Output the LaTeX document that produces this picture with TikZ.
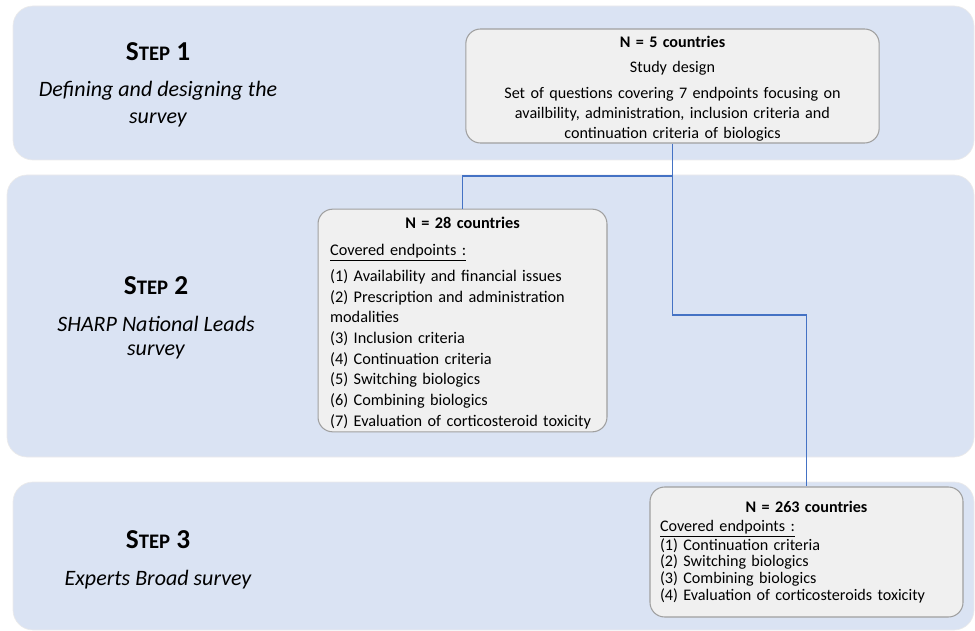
\documentclass[tikz,border=0pt]{standalone}
\usepackage{fontspec}
\setmainfont{Carlito}
\usepackage{tikz}
\usetikzlibrary{positioning}
\definecolor{bandblue}{RGB}{218,227,243}
\definecolor{boxgray}{RGB}{240,240,240}
\definecolor{boxline}{RGB}{160,160,160}
\definecolor{linkblue}{RGB}{68,114,196}
\newcommand{\stepname}[1]{{\bfseries\fontsize{20.5}{24}\selectfont S\fontsize{15.5}{18}\selectfont TEP\fontsize{20.5}{24}\selectfont\ #1}}
\tikzset{
	band/.style = {fill=bandblue, draw=black!8, line width=0.5pt, rounded corners=15pt},
	infobox/.style args = {#1/#2}{rectangle, rounded corners=11pt, fill=boxgray, draw=boxline,
		line width=0.8pt, text width=#1, minimum height=#2, inner ysep=0pt},
	stephead/.style = {anchor=base, inner sep=0pt},
	stepsub/.style = {anchor=base, align=center, inner sep=0pt, font=\itshape\fontsize{16.5}{18}\selectfont},
	link/.style = {draw=linkblue, line width=1.2pt},
}

\begin{document}
\begin{tikzpicture}[x=0.75pt, y=-0.75pt]
	\clip (0,0) rectangle (975,631);
	\foreach \top/\bot/\lft in {6/160/13, 175/457/7, 482/630/13} {
		\draw[band] (\lft,\top) rectangle (974,\bot);
	}
	% step labels
	\node[stephead] (step1) at (158,61) {\stepname{1}};
	\node[stepsub] (step1sub) at (158,124) {Defining and designing the\\[2.25pt]survey};
	\node[stephead] (step2) at (156,294) {\stepname{2}};
	\node[stepsub] (step2sub) at (156,355) {SHARP National Leads\\survey};
	\node[stephead] (step3) at (158,548) {\stepname{3}};
	\node[stepsub] (step3sub) at (158,585) {Experts Broad survey};
	% boxes
	\node[infobox=290pt/85.5pt, align=center, inner xsep=10pt, font=\fontsize{12.1}{15}\selectfont]
		(design) at (672.5,86) {\rule{0pt}{12.5pt}\textbf{N = 5 countries}\\[3.75pt]
		Study design\\[4.5pt]
		Set of questions covering 7 endpoints focusing on\\
		availbility, administration, inclusion criteria and\\
		continuation criteria of biologics};
	\node[infobox=198.5pt/167pt, align=left, inner xsep=9.1pt, font=\fontsize{12.2}{15.5}\selectfont]
		(leads) at (462.5,320.5) {\makebox[\linewidth]{\rule{0pt}{12.5pt}\textbf{N = 28 countries}}\\[4.6pt]
		\underline{Covered endpoints :}\\[4.1pt]
		(1) Availability and financial issues\\
		(2) Prescription and administration\\
		modalities\\
		(3) Inclusion criteria\\
		(4) Continuation criteria\\
		(5) Switching biologics\\
		(6) Combining biologics\\
		(7) Evaluation of corticosteroid toxicity};
	\node[infobox=219.75pt/97.5pt, align=left, inner xsep=7.5pt, font=\fontsize{12.1}{12.5}\selectfont]
		(experts) at (806.5,552) {\makebox[\linewidth]{\textbf{N = 263 countries}}\\[1.75pt]
		\underline{Covered endpoints :}\\[0.25pt]
		(1) Continuation criteria\\
		(2) Switching biologics\\
		(3) Combining biologics\\
		(4) Evaluation of corticosteroids toxicity\\[9pt]};
	% connectors
	\coordinate (fork) at (672.5,176);
	\coordinate (turn) at (672.5,315);
	\draw[link] (design.south) -- (fork) -| (leads.north);
	\draw[link] (fork) -- (turn) -| (experts.north);
\end{tikzpicture}
\end{document}
